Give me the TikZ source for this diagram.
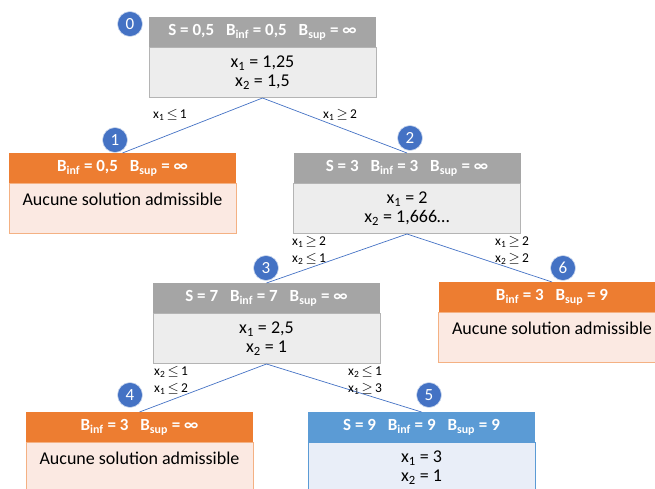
\documentclass[tikz,border=0pt]{standalone}
\usepackage{fontspec}
\setmainfont{Carlito}
\definecolor{hgray}{HTML}{A5A5A5}
\definecolor{bgray}{HTML}{EDEDED}
\definecolor{lgray}{HTML}{B4B4B4}
\definecolor{horange}{HTML}{ED7D31}
\definecolor{borange}{HTML}{FBE9E2}
\definecolor{lorange}{HTML}{F4B183}
\definecolor{hblue}{HTML}{5B9BD5}
\definecolor{bblue}{HTML}{E9EEF8}
\definecolor{cblue}{HTML}{4472C4}
\newcommand{\hsp}{\hspace{0.7em}}
\newcommand{\myle}{\,$\leq$\,}
\newcommand{\myge}{\,$\geq$\,}
\begin{document}
\begin{tikzpicture}[x=1pt,y=-1pt,
  hdr/.style={minimum width=227pt, minimum height=30pt, inner sep=0pt, text=white, anchor=north,
    font=\bfseries\fontsize{17}{19}\selectfont},
  body/.style={minimum width=227pt, minimum height=50pt, inner sep=0pt, anchor=north, align=center,
    line width=0.6pt, font=\fontsize{18}{19.5}\selectfont},
  num/.style={circle, fill=cblue, draw=white!75!cblue, line width=0.6pt, text=white, minimum size=25pt,
    inner sep=0pt, font=\fontsize{17}{17}\selectfont},
  edge/.style={draw=cblue, line width=0.7pt},
  lbl/.style={align=left, inner sep=0pt, font=\fontsize{13.5}{17}\selectfont}]
\clip (0,0) rectangle (655,489);
% box 0
\node[hdr, fill=hgray] (h0) at (262.5,17) {S = 0,5\hsp B\textsubscript{inf} = 0,5\hsp B\textsubscript{sup} = ∞};
\node[body, fill=bgray, draw=lgray] (b0) at (h0.south) {x\textsubscript{1} = 1,25\\x\textsubscript{2} = 1,5};
\node[num] (c0) at (130,24) {0};
% box 1
\node[hdr, fill=horange] (h1) at (122.5,153) {B\textsubscript{inf} = 0,5\hsp B\textsubscript{sup} = ∞};
\node[body, fill=borange, draw=lorange] (b1) at (h1.south) {Aucune solution admissible\\\mbox{}};
\node[num] (c1) at (115,140) {1};
% box 2
\node[hdr, fill=hgray] (h2) at (407,153) {S = 3\hsp B\textsubscript{inf} = 3\hsp B\textsubscript{sup} = ∞};
\node[body, fill=bgray, draw=lgray] (b2) at (h2.south) {x\textsubscript{1} = 2\\x\textsubscript{2} = 1,666…};
\node[num] (c2) at (410,138) {2};
% box 3
\node[hdr, fill=hgray] (h3) at (266.5,283) {S = 7\hsp B\textsubscript{inf} = 7\hsp B\textsubscript{sup} = ∞};
\node[body, fill=bgray, draw=lgray] (b3) at (h3.south) {x\textsubscript{1} = 2,5\\x\textsubscript{2} = 1};
\node[num] (c3) at (266,268) {3};
% box 6
\node[hdr, fill=horange] (h6) at (552,282) {B\textsubscript{inf} = 3\hsp B\textsubscript{sup} = 9};
\node[body, fill=borange, draw=lorange] (b6) at (h6.south) {Aucune solution admissible\\\mbox{}};
\node[num] (c6) at (563,268) {6};
% box 4
\node[hdr, fill=horange] (h4) at (139.5,412) {B\textsubscript{inf} = 3\hsp B\textsubscript{sup} = ∞};
\node[body, fill=borange, draw=lorange] (b4) at (h4.south) {Aucune solution admissible\\\mbox{}};
\node[num] (c4) at (130,395) {4};
% box 5
\node[hdr, fill=hblue] (h5) at (421.5,412) {S = 9\hsp B\textsubscript{inf} = 9\hsp B\textsubscript{sup} = 9};
\node[body, fill=bblue, draw=hblue] (b5) at (h5.south) {x\textsubscript{1} = 3\\x\textsubscript{2} = 1};
\node[num] (c5) at (429,395) {5};
% edges
\draw[edge] (b0.south) -- (h1.north);
\draw[edge] (b0.south) -- (h2.north);
\draw[edge] (b2.south) -- (h3.north);
\draw[edge] (b2.south) -- (h6.north);
\draw[edge] (b3.south) -- (h4.north);
\draw[edge] (b3.south) -- (h5.north);
% labels
\node[lbl] (l1) at (170,115) {x\textsubscript{1}\myle 1};
\node[lbl] (l2) at (340,115) {x\textsubscript{1}\myge 2};
\node[lbl] (l3) at (309,250) {x\textsubscript{1}\myge 2\\x\textsubscript{2}\myle 1};
\node[lbl] (l6) at (512,250) {x\textsubscript{1}\myge 2\\x\textsubscript{2}\myge 2};
\node[lbl] (l4) at (171,380) {x\textsubscript{2}\myle 1\\x\textsubscript{1}\myle 2};
\node[lbl] (l5) at (365,380) {x\textsubscript{2}\myle 1\\x\textsubscript{1}\myge 3};
\end{tikzpicture}
\end{document}
